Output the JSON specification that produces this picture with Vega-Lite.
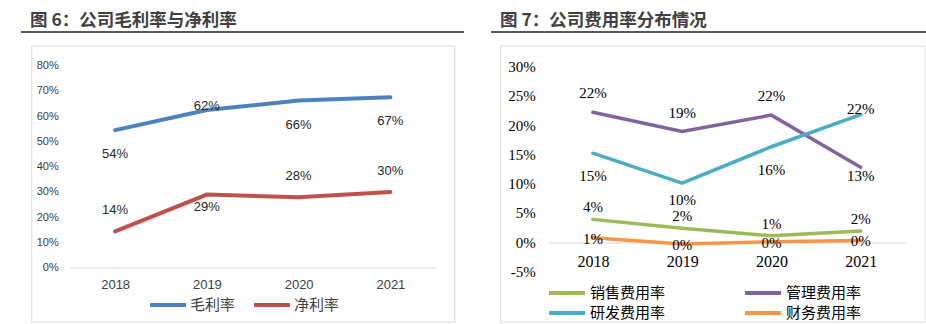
{
  "$schema": "https://vega.github.io/schema/vega-lite/v6.json",
  "background": "white",
  "padding": {"left": 20, "top": 12, "right": 0, "bottom": 0},
  "spacing": 25,
  "resolve": {"scale": {"x": "independent", "y": "independent", "color": "independent"}, "legend": {"color": "independent"}},
  "config": {"view": {"stroke": null}, "axis": {"grid": false}, "font": "Liberation Sans"},
  "hconcat": [
    {
      "vconcat": [
        {
          "width": 443, "height": 1,
          "data": {"values": [{"start": 0, "end": 1}]},
          "title": {"text": "图 6：公司毛利率与净利率", "anchor": "start", "dx": 10, "offset": 1.5, "fontSize": 17.5, "fontWeight": "bold", "color": "#404040", "font": "Noto Sans CJK SC"},
          "mark": {"type": "rule", "color": "#595959", "strokeWidth": 2},
          "encoding": {
            "x": {"field": "start", "type": "quantitative", "scale": {"domain": [0, 1]}, "axis": null},
            "x2": {"field": "end"},
            "y": {"datum": 0, "type": "quantitative", "scale": {"domain": [0, 1]}, "axis": null}
          }
        },
        {
          "width": 423, "height": 276,
          "view": {"stroke": "#d9d9d9"},
          "data": {"values": [
            {"year": "2018", "series": "毛利率", "value": 0.544},
            {"year": "2019", "series": "毛利率", "value": 0.624},
            {"year": "2020", "series": "毛利率", "value": 0.661},
            {"year": "2021", "series": "毛利率", "value": 0.674},
            {"year": "2018", "series": "净利率", "value": 0.143},
            {"year": "2019", "series": "净利率", "value": 0.289},
            {"year": "2020", "series": "净利率", "value": 0.278},
            {"year": "2021", "series": "净利率", "value": 0.299}
          ]},
          "encoding": {
            "x": {"field": "year", "type": "ordinal", "scale": {"type": "point", "padding": 0.5, "range": [38, 405]},
              "axis": {"orient": "bottom", "offset": -54, "domainColor": "#d9d9d9", "domainWidth": 1, "ticks": false, "labelPadding": 11, "labelAngle": 0, "labelFont": "Liberation Sans", "labelFontSize": 13, "labelColor": "#404040", "title": null}},
            "y": {"field": "value", "type": "quantitative", "scale": {"domain": [0, 0.8], "range": [222, 20], "nice": false, "zero": false},
              "axis": {"orient": "left", "offset": -32, "domain": false, "ticks": false, "labelPadding": 5, "values": [0, 0.1, 0.2, 0.3, 0.4, 0.5, 0.6, 0.7, 0.8], "format": ".0%", "labelFont": "Liberation Sans", "labelFontSize": 11, "labelColor": "#404040", "title": null}}
          },
          "layer": [
            {
              "mark": {"type": "line", "strokeWidth": 4, "strokeCap": "round"},
              "encoding": {
                "color": {"field": "series", "type": "nominal", "scale": {"domain": ["毛利率", "净利率"], "range": ["#4F81BD", "#C0504D"]},
                  "legend": {"orient": "none", "legendX": 127, "legendY": 264, "direction": "horizontal", "title": null, "padding": 0, "clipHeight": 20, "symbolType": "stroke", "symbolSize": 1296, "symbolStrokeWidth": 4, "labelFont": "Noto Sans CJK SC", "labelFontSize": 15, "labelColor": "#404040", "labelOffset": 2, "columnPadding": 16}}
              }
            },
            {
              "transform": [{"filter": "datum.series === '毛利率' && datum.year !== '2019'"}],
              "mark": {"type": "text", "dy": 24, "font": "Liberation Sans", "fontSize": 13, "color": "#262626", "baseline": "middle", "align": "center"},
              "encoding": {"text": {"field": "value", "type": "quantitative", "format": ".0%"}}
            },
            {
              "transform": [{"filter": "datum.series === '毛利率' && datum.year === '2019'"}],
              "mark": {"type": "text", "dy": -4, "font": "Liberation Sans", "fontSize": 13, "color": "#262626", "baseline": "middle", "align": "center"},
              "encoding": {"text": {"field": "value", "type": "quantitative", "format": ".0%"}}
            },
            {
              "transform": [{"filter": "datum.series === '净利率' && datum.year !== '2019'"}],
              "mark": {"type": "text", "dy": -21, "font": "Liberation Sans", "fontSize": 13, "color": "#262626", "baseline": "middle", "align": "center"},
              "encoding": {"text": {"field": "value", "type": "quantitative", "format": ".0%"}}
            },
            {
              "transform": [{"filter": "datum.series === '净利率' && datum.year === '2019'"}],
              "mark": {"type": "text", "dy": 12, "font": "Liberation Sans", "fontSize": 13, "color": "#262626", "baseline": "middle", "align": "center"},
              "encoding": {"text": {"field": "value", "type": "quantitative", "format": ".0%"}}
            }
          ]
        }
      ],
      "spacing": 11.5,
      "center": true,
      "resolve": {"scale": {"x": "independent", "y": "independent"}}
    },
    {
      "vconcat": [
        {
          "width": 443, "height": 1,
          "data": {"values": [{"start": 0, "end": 1}]},
          "title": {"text": "图 7：公司费用率分布情况", "anchor": "start", "dx": 10, "offset": 1.5, "fontSize": 17.5, "fontWeight": "bold", "color": "#404040", "font": "Noto Sans CJK SC"},
          "mark": {"type": "rule", "color": "#595959", "strokeWidth": 2},
          "encoding": {
            "x": {"field": "start", "type": "quantitative", "scale": {"domain": [0, 1]}, "axis": null},
            "x2": {"field": "end"},
            "y": {"datum": 0, "type": "quantitative", "scale": {"domain": [0, 1]}, "axis": null}
          }
        },
        {
          "width": 425, "height": 276,
          "view": {"stroke": "#d9d9d9"},
          "data": {"values": [
            {"year": "2018", "series": "销售费用率", "value": 0.039},
            {"year": "2019", "series": "销售费用率", "value": 0.024},
            {"year": "2020", "series": "销售费用率", "value": 0.011},
            {"year": "2021", "series": "销售费用率", "value": 0.019},
            {"year": "2018", "series": "管理费用率", "value": 0.222},
            {"year": "2019", "series": "管理费用率", "value": 0.189},
            {"year": "2020", "series": "管理费用率", "value": 0.217},
            {"year": "2021", "series": "管理费用率", "value": 0.128},
            {"year": "2018", "series": "研发费用率", "value": 0.152},
            {"year": "2019", "series": "研发费用率", "value": 0.101},
            {"year": "2020", "series": "研发费用率", "value": 0.163},
            {"year": "2021", "series": "研发费用率", "value": 0.218},
            {"year": "2018", "series": "财务费用率", "value": 0.0075},
            {"year": "2019", "series": "财务费用率", "value": -0.003},
            {"year": "2020", "series": "财务费用率", "value": 0.0007},
            {"year": "2021", "series": "财务费用率", "value": 0.003}
          ]},
          "encoding": {
            "x": {"field": "year", "type": "ordinal", "scale": {"type": "point", "padding": 0.5, "range": [48, 405]},
              "axis": {"orient": "bottom", "offset": -79, "domainColor": "#d9d9d9", "domainWidth": 1, "ticks": false, "labelPadding": 11, "labelAngle": 0, "labelFont": "Liberation Serif", "labelFontSize": 16, "labelColor": "#000000", "title": null}},
            "y": {"field": "value", "type": "quantitative", "scale": {"domain": [-0.05, 0.3], "range": [226, 21], "nice": false, "zero": false},
              "axis": {"orient": "left", "offset": -40, "domain": false, "ticks": false, "labelPadding": 5, "values": [-0.05, 0, 0.05, 0.1, 0.15, 0.2, 0.25, 0.3], "format": ".0%", "labelExpr": "replace(datum.label, '−', '-')", "labelFont": "Liberation Serif", "labelFontSize": 15, "labelColor": "#000000", "title": null}}
          },
          "layer": [
            {
              "mark": {"type": "line", "strokeWidth": 3.5, "strokeCap": "round"},
              "encoding": {
                "color": {"field": "series", "type": "nominal", "scale": {"domain": ["销售费用率", "管理费用率", "研发费用率", "财务费用率"], "range": ["#9BBB59", "#8064A2", "#4BACC6", "#F79646"]},
                  "legend": {"orient": "none", "legendX": 56, "legendY": 252, "direction": "horizontal", "columns": 2, "title": null, "padding": 0, "clipHeight": 20, "symbolType": "stroke", "symbolSize": 1296, "symbolStrokeWidth": 4, "labelFont": "Noto Sans CJK SC", "labelFontSize": 15, "labelColor": "#000000", "labelOffset": 3, "columnPadding": 77, "rowPadding": -2}}
              }
            },
            {
              "transform": [{"filter": "datum.series === '管理费用率' && datum.year !== '2021'"}],
              "mark": {"type": "text", "dy": -19, "font": "Liberation Serif", "fontSize": 15, "color": "#000000", "baseline": "middle", "align": "center"},
              "encoding": {"text": {"field": "value", "type": "quantitative", "format": ".0%"}}
            },
            {
              "transform": [{"filter": "datum.series === '管理费用率' && datum.year === '2021'"}],
              "mark": {"type": "text", "dy": 9, "font": "Liberation Serif", "fontSize": 15, "color": "#000000", "baseline": "middle", "align": "center"},
              "encoding": {"text": {"field": "value", "type": "quantitative", "format": ".0%"}}
            },
            {
              "transform": [{"filter": "datum.series === '研发费用率' && (datum.year === '2018' || datum.year === '2020')"}],
              "mark": {"type": "text", "dy": 23, "font": "Liberation Serif", "fontSize": 15, "color": "#000000", "baseline": "middle", "align": "center"},
              "encoding": {"text": {"field": "value", "type": "quantitative", "format": ".0%"}}
            },
            {
              "transform": [{"filter": "datum.series === '研发费用率' && datum.year === '2019'"}],
              "mark": {"type": "text", "dy": 17, "font": "Liberation Serif", "fontSize": 15, "color": "#000000", "baseline": "middle", "align": "center"},
              "encoding": {"text": {"field": "value", "type": "quantitative", "format": ".0%"}}
            },
            {
              "transform": [{"filter": "datum.series === '研发费用率' && datum.year === '2021'"}],
              "mark": {"type": "text", "dy": -6, "font": "Liberation Serif", "fontSize": 15, "color": "#000000", "baseline": "middle", "align": "center"},
              "encoding": {"text": {"field": "value", "type": "quantitative", "format": ".0%"}}
            },
            {
              "transform": [{"filter": "datum.series === '销售费用率'"}],
              "mark": {"type": "text", "dy": -12, "font": "Liberation Serif", "fontSize": 15, "color": "#000000", "baseline": "middle", "align": "center"},
              "encoding": {"text": {"field": "value", "type": "quantitative", "format": ".0%"}}
            },
            {
              "transform": [{"filter": "datum.series === '财务费用率'"}],
              "mark": {"type": "text", "dy": 1, "font": "Liberation Serif", "fontSize": 15, "color": "#000000", "baseline": "middle", "align": "center"},
              "encoding": {"text": {"field": "value", "type": "quantitative", "format": ".0%"}}
            }
          ]
        }
      ],
      "spacing": 11.5,
      "center": true,
      "resolve": {"scale": {"x": "independent", "y": "independent"}}
    }
  ]
}
